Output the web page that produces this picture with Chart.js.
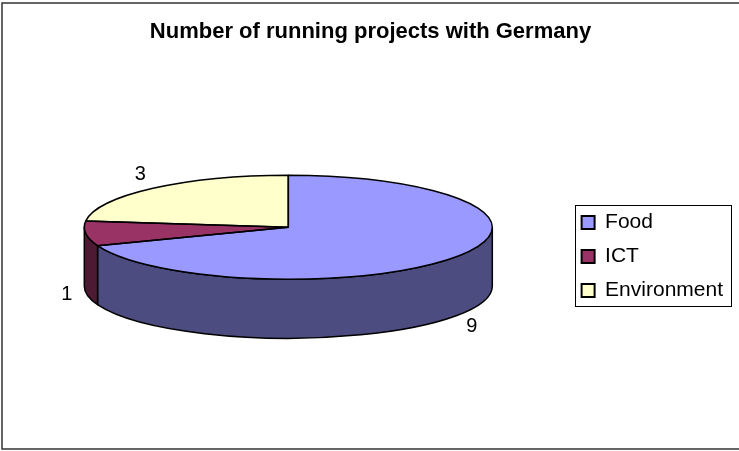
<!DOCTYPE html>
<html>
<head>
<meta charset="utf-8">
<title>Number of running projects with Germany</title>
<script src="https://cdn.jsdelivr.net/npm/chart.js@4.4.1/dist/chart.umd.min.js"></script>
<style>
  html, body { margin: 0; padding: 0; background: #fff; overflow: hidden; }
  canvas { display: block; }
</style>
</head>
<body>
<canvas id="chart" width="739" height="451"></canvas>
<script>
var categories = ['Food', 'ICT', 'Environment'];
var projects = [9, 1, 3];
var topColors = ['#9999ff', '#993366', '#ffffcc'];
var sideColors = ['#4c4c80', '#4d1a33', '#808066'];

var TILT = 0.255;  // how flat the disc looks
var DEPTH = 59;    // height of the pie wall

Chart.defaults.font.family = '"Liberation Sans", Arial, sans-serif';

// slice angles come from the pie controller, so walls and labels follow the data
function arcGeometry(chart) {
  var arcs = chart.getDatasetMeta(0).data;
  var first = arcs[0];
  return {
    arcs: arcs,
    cx: first.x,
    cy: first.y,
    r: first.outerRadius,
    ry: first.outerRadius * TILT
  };
}

var pie3d = {
  id: 'pie3d',
  beforeDatasetsDraw: function (chart) {
    var ctx = chart.ctx;
    var g = arcGeometry(chart);

    // front walls, only the part between 0 and PI faces the viewer
    ctx.save();
    ctx.lineWidth = 1.5;
    ctx.strokeStyle = '#000';
    ctx.lineJoin = 'round';
    g.arcs.forEach(function (arc, i) {
      var s = arc.startAngle, e = arc.endAngle;
      for (var k = -1; k <= 1; k++) {
        var off = k * 2 * Math.PI;
        var a0 = Math.max(s, off), a1 = Math.min(e, off + Math.PI);
        if (a1 <= a0) continue;
        a0 -= off;
        a1 -= off;
        ctx.beginPath();
        ctx.ellipse(g.cx, g.cy, g.r, g.ry, 0, a0, a1);
        ctx.lineTo(g.cx + g.r * Math.cos(a1), g.cy + g.ry * Math.sin(a1) + DEPTH);
        ctx.ellipse(g.cx, g.cy + DEPTH, g.r, g.ry, 0, a1, a0, true);
        ctx.closePath();
        ctx.fillStyle = sideColors[i];
        ctx.fill();
        ctx.stroke();
      }
    });
    ctx.restore();

    // squash the disc the controller is about to draw
    ctx.save();
    ctx.translate(g.cx, g.cy);
    ctx.scale(1, TILT);
    ctx.translate(-g.cx, -g.cy);
  },
  afterDatasetsDraw: function (chart) {
    var ctx = chart.ctx;
    ctx.restore();
    var g = arcGeometry(chart);
    var values = chart.data.datasets[0].data;

    ctx.save();
    ctx.lineWidth = 1.5;
    ctx.strokeStyle = '#000';
    ctx.lineJoin = 'round';
    g.arcs.forEach(function (arc) {
      ctx.beginPath();
      ctx.moveTo(g.cx, g.cy);
      ctx.ellipse(g.cx, g.cy, g.r, g.ry, 0, arc.startAngle, arc.endAngle);
      ctx.closePath();
      ctx.stroke();
    });

    // value labels just outside each slice
    ctx.fillStyle = '#000';
    ctx.font = '20px "Liberation Sans", Arial, sans-serif';
    ctx.textAlign = 'center';
    ctx.textBaseline = 'middle';
    g.arcs.forEach(function (arc, i) {
      var mid = (arc.startAngle + arc.endAngle) / 2;
      var c = Math.cos(mid), sn = Math.sin(mid);
      var x = g.cx + g.r * c + 19 * c;
      var y = g.cy + g.ry * sn + 19 * sn + (sn > 0 ? DEPTH : 0);
      ctx.fillText(String(values[i]), x, y);
    });
    ctx.restore();
  },
  afterDraw: function (chart) {
    var ctx = chart.ctx;
    var boxes = chart.legend.legendHitBoxes;
    var left = Infinity, top = Infinity, right = -Infinity, bottom = -Infinity;
    boxes.forEach(function (b) {
      left = Math.min(left, b.left);
      top = Math.min(top, b.top);
      right = Math.max(right, b.left + b.width);
      bottom = Math.max(bottom, b.top + b.height);
    });
    ctx.save();
    ctx.strokeStyle = '#000';
    ctx.lineWidth = 1;
    ctx.strokeRect(Math.round(left - 7) + 0.5, Math.round(top - 7) + 0.5,
      Math.round(right - left + 15), Math.round(bottom - top + 12));

    // chart frame
    ctx.strokeStyle = '#333';
    ctx.lineWidth = 1.5;
    ctx.strokeRect(2, 3, 800, 446);
    ctx.restore();
  }
};

var baseLabels = Chart.DoughnutController.overrides.plugins.legend.labels.generateLabels;

new Chart(document.getElementById('chart'), {
  type: 'pie',
  data: {
    labels: categories,
    datasets: [{
      data: projects,
      backgroundColor: topColors,
      borderColor: '#000',
      borderWidth: 0,
      radius: 204
    }]
  },
  options: {
    responsive: false,
    animation: false,
    layout: { padding: { left: 8, right: 6, top: 0, bottom: 137 } },
    plugins: {
      title: {
        display: true,
        text: 'Number of running projects with Germany',
        color: '#000',
        font: { size: 22, weight: 'bold' },
        padding: { top: 19, bottom: 95 }
      },
      legend: {
        position: 'right',
        align: 'end',
        fullSize: false,
        labels: {
          color: '#000',
          font: { size: 21 },
          boxWidth: 13,
          boxHeight: 13,
          padding: 13,
          generateLabels: function (chart) {
            var items = baseLabels(chart);
            items.forEach(function (item) {
              item.strokeStyle = '#000';
              item.lineWidth = 2;
            });
            return items;
          }
        }
      },
      tooltip: { enabled: false }
    }
  },
  plugins: [pie3d]
});
</script>
</body>
</html>
